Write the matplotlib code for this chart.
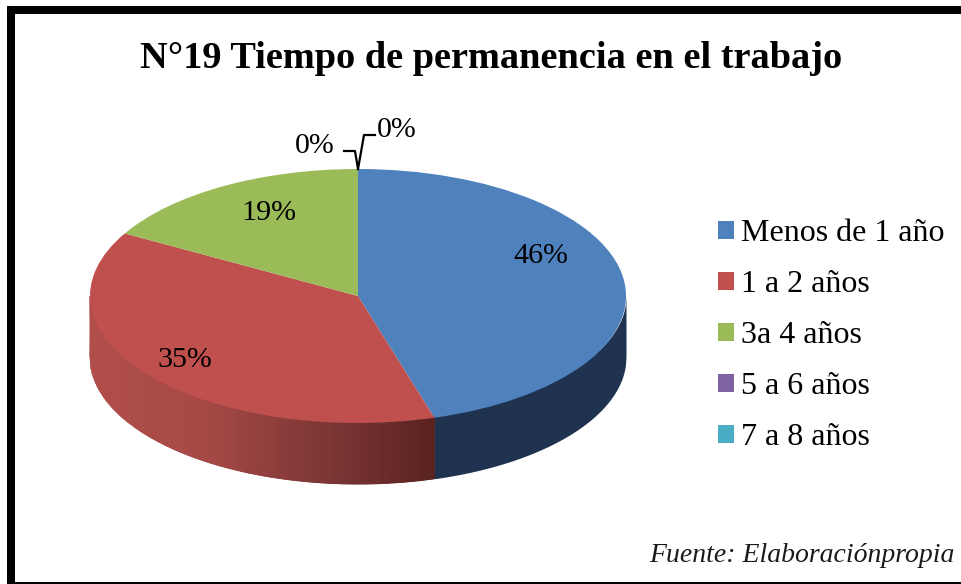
import numpy as np
import matplotlib
matplotlib.use("Agg")
import matplotlib.pyplot as plt
from matplotlib.patches import Patch, Rectangle
from matplotlib.colors import LinearSegmentedColormap

title = "N°19 Tiempo de permanencia en el trabajo"
source = "Fuente: Elaboraciónpropia"
categories = ["Menos de 1 año", "1 a 2 años", "3a 4 años", "5 a 6 años", "7 a 8 años"]
percent_labels = ["46%", "35%", "19%", "0%", "0%"]
# Slice sizes as they appear after the original's 3-D perspective
apparent_shares = [45.4, 37.8, 16.8, 0.0, 0.0]
colors = ["#4F81BD", "#C0504D", "#9BBB59", "#8064A2", "#4BACC6"]

W, H = 961, 584
CX, CY, RX, RY, DEPTH = 358, 296, 268, 127, 61
FONT = "Liberation Serif"

fig = plt.figure(figsize=(W / 100, H / 100), dpi=100)
ax = fig.add_axes([0, 0, 1, 1])
ax.set_xlim(0, W)
ax.set_ylim(H, 0)
ax.axis("off")

# Side wall of the disc
def arc(x):
    return np.sqrt(np.clip(1 - ((x - CX) / RX) ** 2, 0, 1))

def wall_top(x):
    return CY + (RY - 3) * arc(x)

def wall_bottom(x):
    return CY + RY * arc(x) + DEPTH

split = CX + RX * np.sin(np.deg2rad(apparent_shares[0] / sum(apparent_shares) * 360))

xb = np.linspace(split, CX + RX, 300)
ax.fill_between(xb, wall_top(xb), wall_bottom(xb), color="#1F3350", lw=0, zorder=1)

xr = np.linspace(CX - RX, split, 300)
cmap = LinearSegmentedColormap.from_list(
    "side", ["#B04E4B", "#A64946", "#7F3836", "#5A2320"])
X = np.vstack([xr, xr])
Y = np.vstack([wall_top(xr), wall_bottom(xr)])
C = np.vstack([xr, xr])
ax.pcolormesh(X, Y, C, cmap=cmap, shading="gouraud", zorder=1)

# Top face
pie_ax = fig.add_axes([(CX - RX) / W, (H - CY - RY) / H, 2 * RX / W, 2 * RY / H], zorder=2)
pie_ax.pie(apparent_shares, colors=colors, startangle=90, counterclock=False, radius=1)
pie_ax.set_xlim(-1, 1)
pie_ax.set_ylim(-1, 1)
pie_ax.set_aspect("auto")
pie_ax.patch.set_visible(False)

# Overlay axes for text, legend and frame
top = fig.add_axes([0, 0, 1, 1], zorder=3)
top.set_xlim(0, W)
top.set_ylim(H, 0)
top.axis("off")

# Frame: left, top and bottom bars (the right side runs off the canvas)
for x0, y0, w, h in [(7, 6, 8, 578), (7, 6, 954, 8), (7, 582, 954, 2)]:
    top.add_patch(Rectangle((x0, y0), w, h, fc="black", ec="none"))

top.text(491, 58, title, family=FONT, weight="bold", fontsize=27.6, ha="center", va="center")

label_xy = [(541, 256), (185, 360), (269, 213), (315, 146), (397, 130)]
for s, (x, y) in zip(percent_labels, label_xy):
    top.text(x, y, s, family=FONT, fontsize=21.6, ha="center", va="center", color="black")

top.plot([344, 355, 358], [151, 151, 169], color="black", lw=1.6)
top.plot([358, 364, 375], [169, 135, 135], color="black", lw=1.6)

handles = [Patch(facecolor=c, edgecolor="none") for c in colors]
top.legend(handles, categories, loc="upper left", bbox_to_anchor=(718 / W, 1 - 219 / H),
           bbox_transform=fig.transFigure, frameon=False,
           prop={"family": FONT, "size": 23}, handlelength=0.5, handleheight=0.5,
           handletextpad=0.22, labelspacing=0.69, borderpad=0, borderaxespad=0)

top.text(955, 556, source, family=FONT, style="italic", fontsize=20, color="#1a1a1a",
         ha="right", va="center")

fig.savefig("out.png", dpi=100)
